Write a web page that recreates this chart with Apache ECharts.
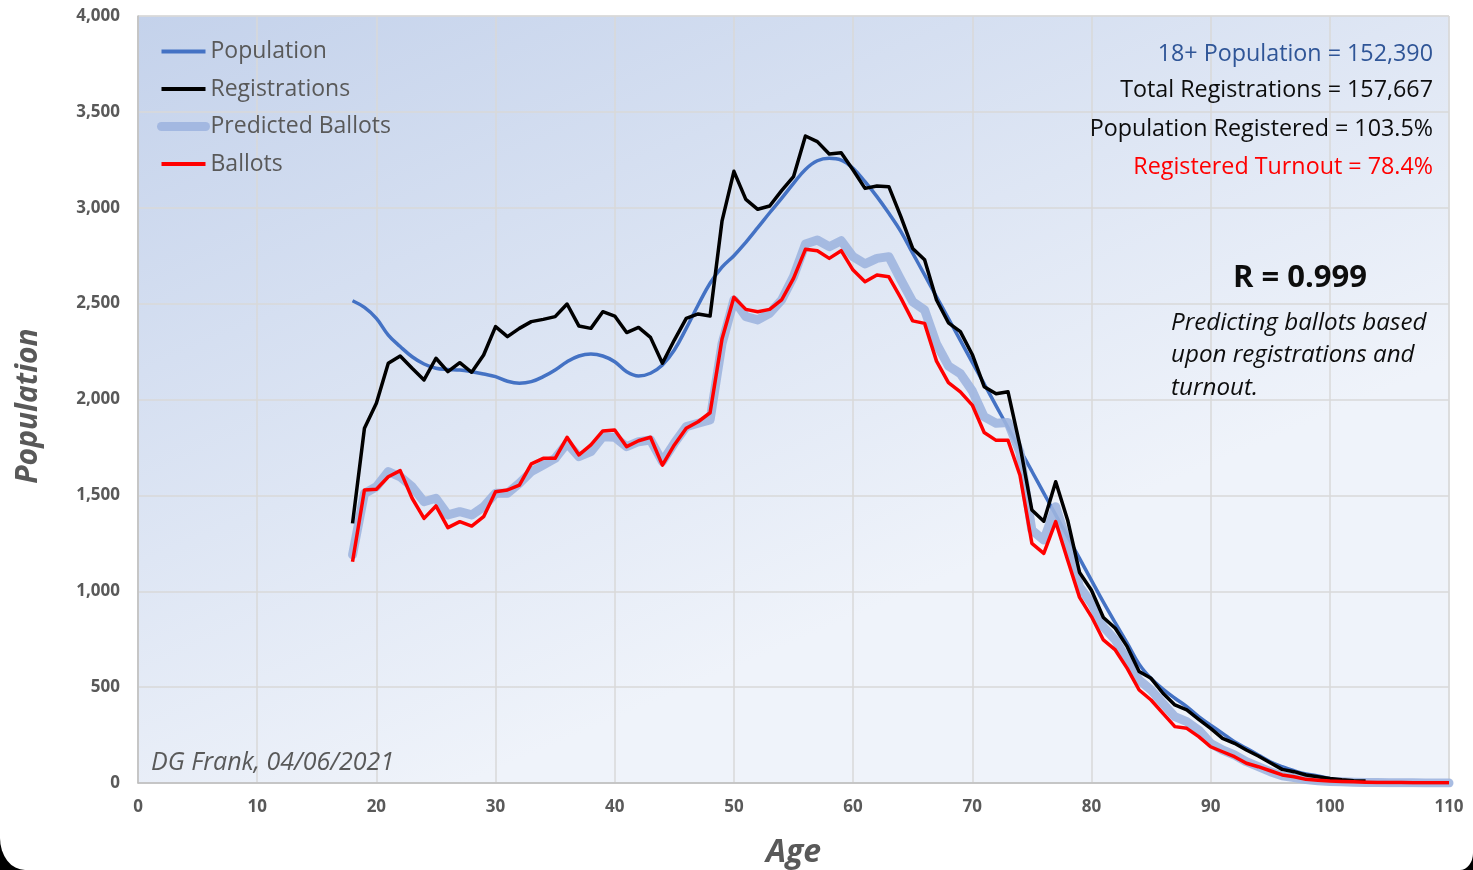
<!DOCTYPE html>
<html>
<head>
<meta charset="utf-8">
<title>Population, Registrations and Ballots by Age</title>
<script src="https://cdn.jsdelivr.net/npm/echarts@6.0.0/dist/echarts.min.js"></script>
<style>
  html, body { margin: 0; padding: 0; background: #000; }
  #chart {
    width: 1473px;
    height: 870px;
    background: #fff;
    border-radius: 0 0 13px 25px / 0 0 17px 32px;
    overflow: hidden;
  }
</style>
</head>
<body>
<div id="chart"></div>
<script>
// first age in every series (ages run 18, 19, 20 ...)
const startAge = 18;

// population per year of age, 18..110
const population = [
  2515, 2480, 2423, 2336, 2276, 2223, 2185, 2163, 2157, 2154,
  2145, 2133, 2119, 2095, 2085, 2093, 2119, 2154, 2197, 2227,
  2237, 2227, 2197, 2145, 2123, 2137, 2180, 2258, 2371, 2493,
  2606, 2690, 2750, 2820, 2896, 2974, 3049, 3127, 3200, 3245,
  3258, 3249, 3206, 3136, 3058, 2971, 2877, 2763, 2650, 2536,
  2422, 2308, 2194, 2081, 1967, 1853, 1739, 1626, 1512, 1398,
  1285, 1171, 1057, 943, 835, 730, 620, 545, 490, 442,
  398, 346, 302, 259, 215, 181, 146, 111, 85, 64,
  47, 37, 24, 15, 10, 6, 4, 3, 2, 1,
  1, 0, 0
];

// registrations per year of age, 18..103
const registrations = [
  1354, 1850, 1980, 2189, 2227, 2163, 2102, 2215, 2145, 2192,
  2142, 2232, 2380, 2328, 2371, 2406, 2418, 2432, 2498, 2383,
  2371, 2458, 2435, 2349, 2376, 2324, 2189, 2310, 2423, 2446,
  2435, 2930, 3190, 3044, 2992, 3009, 3089, 3162, 3374, 3345,
  3280, 3287, 3197, 3101, 3113, 3110, 2955, 2788, 2729, 2519,
  2400, 2354, 2235, 2067, 2030, 2040, 1760, 1424, 1365, 1571,
  1372, 1098, 1005, 863, 807, 711, 581, 546, 468, 407,
  381, 332, 285, 233, 207, 172, 141, 106, 71, 59,
  42, 33, 24, 17, 12, 10
];

// predicted ballots per year of age, 18..110
const predicted = [
  1190, 1510, 1545, 1624, 1597, 1545, 1467, 1485, 1398, 1415,
  1398, 1441, 1511, 1511, 1563, 1624, 1658, 1693, 1772, 1702,
  1728, 1806, 1803, 1754, 1780, 1789, 1676, 1772, 1859, 1876,
  1893, 2290, 2519, 2432, 2415, 2450, 2519, 2641, 2811, 2832,
  2797, 2828, 2745, 2707, 2736, 2745, 2625, 2510, 2467, 2290,
  2175, 2135, 2045, 1910, 1876, 1880, 1725, 1319, 1267, 1441,
  1250, 1024, 937, 815, 746, 641, 537, 485, 415, 346,
  320, 276, 207, 172, 146, 111, 85, 59, 38, 28,
  18, 12, 8, 6, 4, 3, 2, 1, 1, 1,
  0, 0, 0
];

// ballots cast per year of age, 18..110
const ballots = [
  1154, 1528, 1532, 1597, 1629, 1485, 1380, 1445, 1332, 1363,
  1340, 1389, 1519, 1528, 1554, 1664, 1693, 1693, 1803, 1711,
  1763, 1836, 1841, 1754, 1785, 1803, 1658, 1763, 1850, 1884,
  1931, 2315, 2533, 2470, 2458, 2470, 2519, 2632, 2783, 2776,
  2736, 2776, 2675, 2614, 2649, 2640, 2530, 2410, 2397, 2200,
  2088, 2040, 1971, 1828, 1787, 1787, 1605, 1250, 1198, 1363,
  1163, 968, 868, 746, 694, 598, 485, 433, 363, 294,
  285, 242, 189, 163, 137, 103, 85, 64, 42, 33,
  19, 14, 10, 8, 6, 4, 3, 2, 2, 1,
  1, 1, 1
];

// text boxes on the plot
const statLines = [
  { text: "18+ Population = 152,390", color: "#2f5597" },
  { text: "Total Registrations = 157,667", color: "#0d0d0d" },
  { text: "Population Registered = 103.5%", color: "#0d0d0d" },
  { text: "Registered Turnout = 78.4%", color: "#ff0000" }
];
const noteLines = ["Predicting ballots based", "upon registrations and", "turnout."];

const FONT = '"Open Sans", Lato, sans-serif';
const GREY = "#595959";

// [age, value] pairs
function pairs(values) {
  return values.map((v, i) => [startAge + i, v]);
}

const chart = echarts.init(document.getElementById("chart"));

const statY = [54, 90, 129, 167];
const noteY = [323, 355, 388];
const graphics = [];
statLines.forEach((s, i) => {
  graphics.push({
    type: "text",
    z: 100,
    style: {
      text: s.text, x: 1433, y: statY[i], align: "right", verticalAlign: "middle",
      fill: s.color, font: "23.3px " + FONT
    }
  });
});
graphics.push({
  type: "text",
  z: 100,
  style: {
    text: "R = 0.999", x: 1300, y: 278, align: "center", verticalAlign: "middle",
    fill: "#0d0d0d", font: "bold 31px " + FONT
  }
});
noteLines.forEach((t, i) => {
  graphics.push({
    type: "text",
    z: 100,
    style: {
      text: t, x: 1171, y: noteY[i], align: "left", verticalAlign: "middle",
      fill: "#0d0d0d", font: "italic 24.2px " + FONT
    }
  });
});
graphics.push({
  type: "text",
  z: 100,
  style: {
    text: "DG Frank, 04/06/2021", x: 151, y: 763, align: "left", verticalAlign: "middle",
    fill: GREY, font: "italic 25px " + FONT
  }
});

const option = {
  backgroundColor: "transparent",
  animation: false,
  textStyle: { fontFamily: FONT },
  grid: {
    left: 138,
    right: 24,
    top: 16,
    bottom: 87,
    outerBoundsMode: "none",
    show: true,
    borderColor: "#d9d9d9",
    borderWidth: 1,
    backgroundColor: new echarts.graphic.LinearGradient(0, 0, 0.25, 1, [
      { offset: 0, color: "#c4d2eb" },
      { offset: 1, color: "#eff3fa" }
    ])
  },
  legend: {
    orient: "vertical",
    left: 157,
    top: 40,
    padding: 0,
    itemWidth: 44,
    itemHeight: 10,
    itemGap: 14.5,
    itemStyle: { opacity: 0 },
    textStyle: { fontSize: 23, color: GREY, fontFamily: FONT },
    data: [
      { name: "Population", lineStyle: { width: 4 } },
      { name: "Registrations", lineStyle: { width: 4 } },
      { name: "Predicted Ballots", lineStyle: { width: 9 } },
      { name: "Ballots", lineStyle: { width: 4 } }
    ]
  },
  xAxis: {
    type: "value",
    min: 0,
    max: 110,
    interval: 10,
    name: "Age",
    nameLocation: "middle",
    nameGap: 54,
    nameTextStyle: { fontSize: 32, fontWeight: "bold", fontStyle: "italic", color: GREY },
    axisLine: { show: true, lineStyle: { color: "#bfbfbf", width: 1.5 } },
    axisTick: { show: false },
    axisLabel: { color: GREY, fontWeight: "bold", fontSize: 17, margin: 16 },
    splitLine: { show: true, lineStyle: { color: "#d9d9d9", width: 1.5 } }
  },
  yAxis: {
    type: "value",
    min: 0,
    max: 4000,
    interval: 500,
    name: "Population",
    nameLocation: "middle",
    nameGap: 95,
    nameRotate: 90,
    nameTextStyle: {
      fontSize: 30, fontWeight: "bold", fontStyle: "italic", color: GREY,
      padding: [0, 13, 0, 0]
    },
    axisLine: { show: true, lineStyle: { color: "#bfbfbf", width: 1.5 } },
    axisTick: { show: false },
    axisLabel: { color: GREY, fontWeight: "bold", fontSize: 17, margin: 18 },
    splitLine: { show: true, lineStyle: { color: "#d9d9d9", width: 1.5 } }
  },
  series: [
    {
      name: "Population",
      type: "line",
      data: pairs(population),
      smooth: 0.4,
      symbol: "none",
      z: 2,
      lineStyle: { color: "#4472c4", width: 3.5 },
      itemStyle: { color: "#4472c4" }
    },
    {
      name: "Predicted Ballots",
      type: "line",
      data: pairs(predicted),
      symbol: "none",
      z: 3,
      lineStyle: { color: "#9fb5df", width: 9, opacity: 0.9, join: "round", cap: "round" },
      itemStyle: { color: "#9fb5df" }
    },
    {
      name: "Registrations",
      type: "line",
      data: pairs(registrations),
      symbol: "none",
      z: 4,
      lineStyle: { color: "#000000", width: 3.5, join: "round" },
      itemStyle: { color: "#000000" }
    },
    {
      name: "Ballots",
      type: "line",
      data: pairs(ballots),
      symbol: "none",
      z: 5,
      lineStyle: { color: "#ff0000", width: 3.5, join: "round" },
      itemStyle: { color: "#ff0000" }
    }
  ],
  graphic: graphics
};

chart.setOption(option);
</script>
</body>
</html>
